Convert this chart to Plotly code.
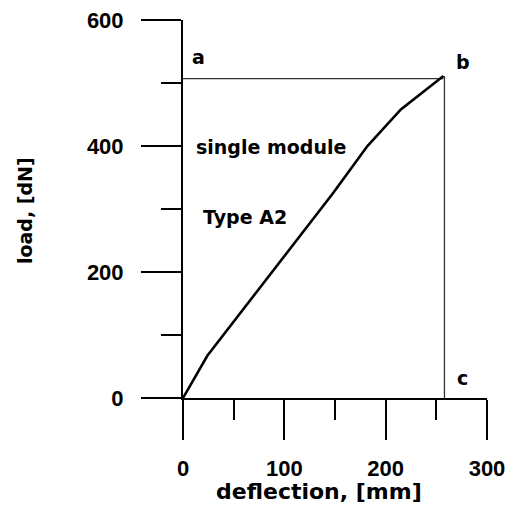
import plotly.graph_objects as go

# curve data (deflection mm, load dN)
deflection = [0, 24, 148, 182, 215, 257]
load = [0, 67, 325, 400, 458, 511]

# bounding lines a-b and b-c
ab_x = [0, 257]
ab_y = [507, 507]
bc_x = [258, 258]
bc_y = [511, 0]

x_ticks = [0, 100, 200, 300]
y_ticks = [0, 200, 400, 600]

labels = ["a", "b", "c"]
label_x = [15, 276, 276]
label_y = [542, 534, 32]

texts = ["single module", "Type A2"]
text_x = [11, 17.5]
text_y = [398, 288]

fig = go.Figure()
fig.add_trace(go.Scatter(x=ab_x, y=ab_y, mode="lines",
                         line=dict(color="#333333", width=1.3), hoverinfo="skip"))
fig.add_trace(go.Scatter(x=bc_x, y=bc_y, mode="lines",
                         line=dict(color="#333333", width=1.3), hoverinfo="skip"))
fig.add_trace(go.Scatter(x=deflection, y=load, mode="lines",
                         line=dict(color="black", width=2.6)))

for t, x, y in zip(labels, label_x, label_y):
    fig.add_annotation(x=x, y=y, text=t, showarrow=False,
                       xanchor="center", yanchor="middle",
                       font=dict(family="DejaVu Sans", size=19, color="black", weight="bold"))
for t, x, y in zip(texts, text_x, text_y):
    fig.add_annotation(x=x, y=y, text=t, showarrow=False, xanchor="left", yanchor="middle",
                       font=dict(family="DejaVu Sans", size=19, color="black", weight="bold"))

fig.add_annotation(xref="paper", yref="paper", x=0.447, y=-0.248,
                   xanchor="center", yanchor="middle",
                   text="deflection, [mm]", showarrow=False,
                   font=dict(family="DejaVu Sans", size=22, color="black", weight="bold"))
fig.add_annotation(xref="paper", yref="paper", x=-0.52, y=0.497,
                   xanchor="center", yanchor="middle",
                   text="load, [dN]", showarrow=False, textangle=-90,
                   font=dict(family="DejaVu Sans", size=19, color="black", weight="bold"))

tickfont = dict(family="Liberation Sans", size=22, color="black", weight="bold")
fig.update_xaxes(range=[0, 300], tickvals=x_ticks, showgrid=False, zeroline=False,
                 showline=True, linecolor="black", linewidth=2, automargin=False,
                 ticks="outside", ticklen=40, tickwidth=2, tickcolor="black",
                 minor=dict(dtick=50, ticks="outside", ticklen=20, tickwidth=2,
                            tickcolor="black", showgrid=False),
                 tickfont=tickfont, ticklabelstandoff=10)
fig.update_yaxes(range=[0, 600], tickvals=y_ticks, showgrid=False, zeroline=False,
                 showline=True, linecolor="black", linewidth=2, automargin=False,
                 ticks="outside", ticklen=40, tickwidth=2, tickcolor="black",
                 minor=dict(dtick=100, ticks="outside", ticklen=20, tickwidth=2,
                            tickcolor="black", showgrid=False),
                 tickfont=tickfont, ticklabelstandoff=13)

fig.update_layout(width=506, height=510, showlegend=False,
                  plot_bgcolor="white", paper_bgcolor="white",
                  margin=dict(l=183, r=19, t=20, b=112))

fig.write_html("out.html")
